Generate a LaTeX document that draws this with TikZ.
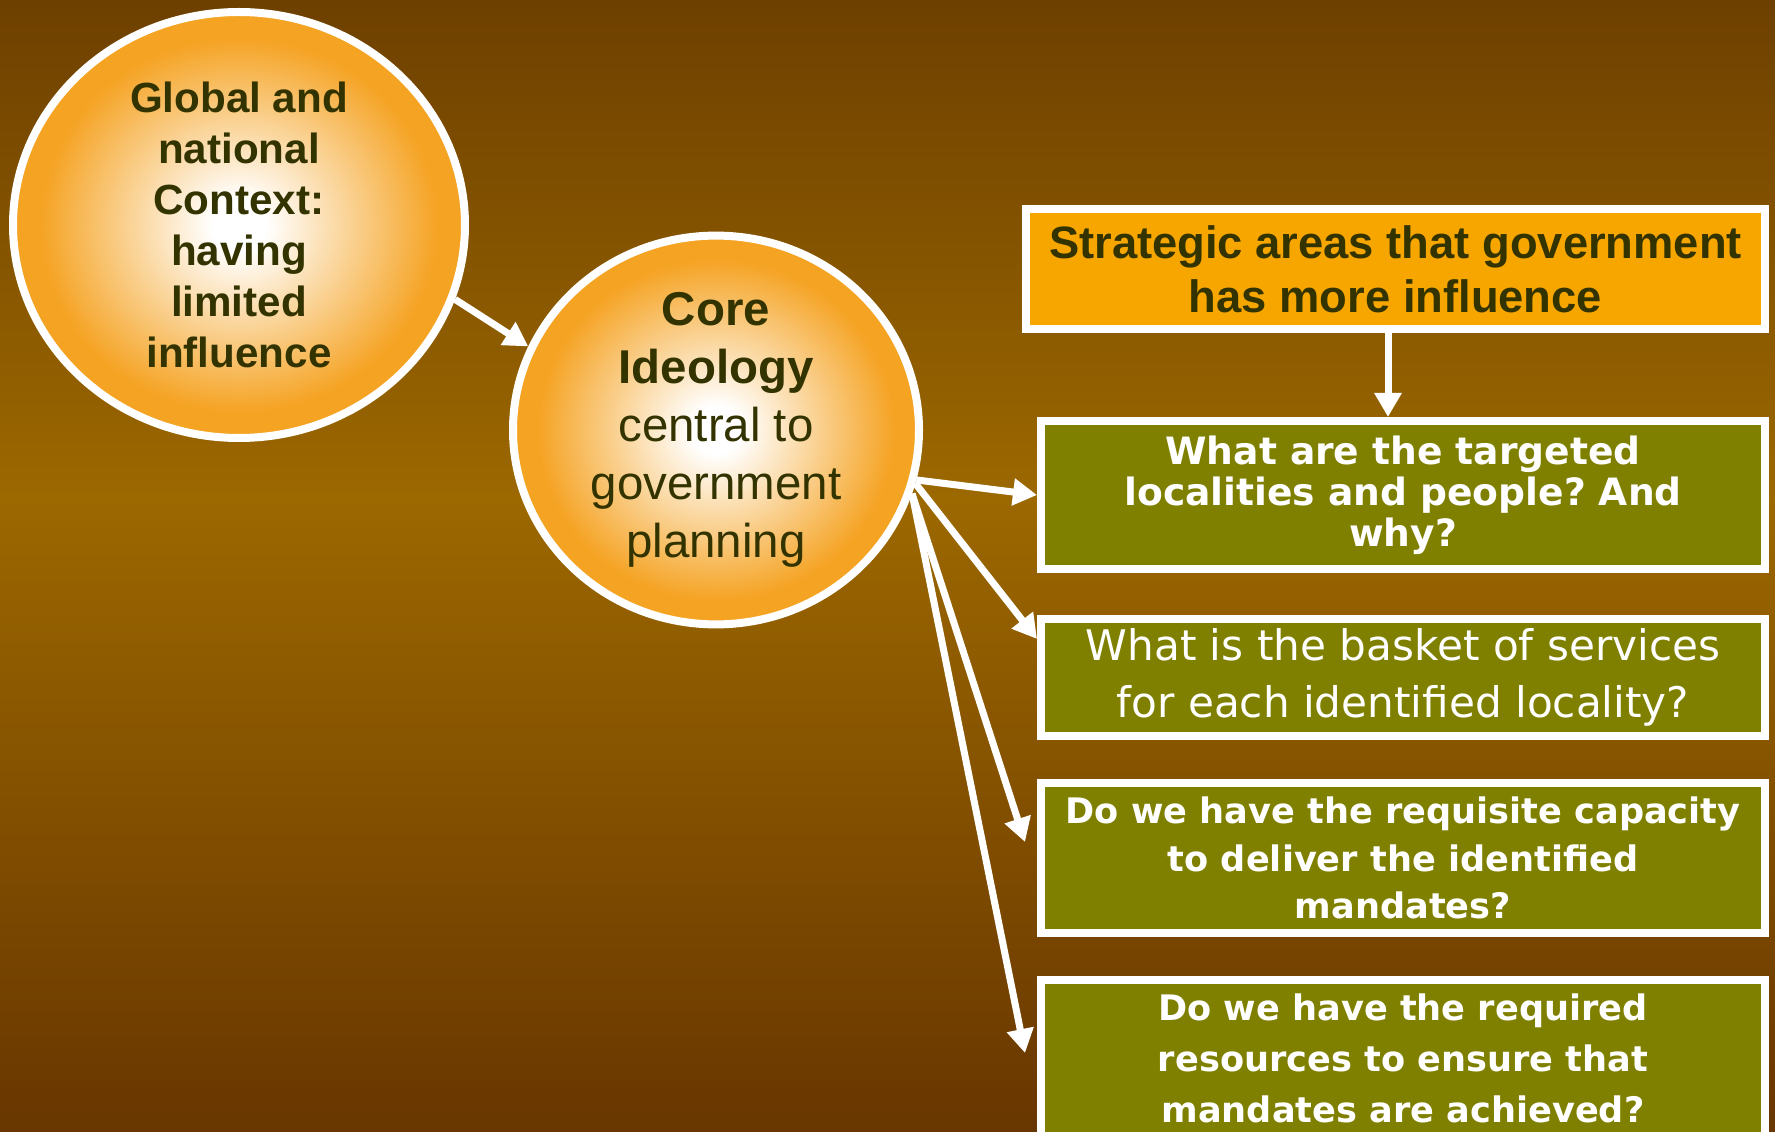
\documentclass[tikz,border=0pt]{standalone}
\usepackage{fontspec}
\setmainfont{Liberation Sans}
\newfontfamily\qfont{DejaVu Sans}
\usetikzlibrary{shapes.geometric,arrows.meta}
\frenchspacing

\definecolor{bgtop}{RGB}{110,64,0}
\definecolor{bgmid}{RGB}{156,104,0}
\definecolor{bgbot}{RGB}{104,54,0}
\definecolor{orbcol}{RGB}{245,163,35}
\definecolor{inktext}{RGB}{51,51,0}
\definecolor{stratfill}{RGB}{247,166,0}
\definecolor{qfill}{RGB}{128,128,0}

\pgfdeclareverticalshading{bgfade}{100bp}{color(0bp)=(bgbot); color(25bp)=(bgbot); color(53bp)=(bgmid); color(75bp)=(bgtop); color(100bp)=(bgtop)}
\pgfdeclareradialshading{orbglow}{\pgfpoint{0bp}{0bp}}{color(0bp)=(white); color(3bp)=(white); color(22bp)=(orbcol); color(50bp)=(orbcol)}

\begin{document}
\begin{tikzpicture}[
    orb/.style={ellipse, draw=white, line width=0.08cm, shade, shading=orbglow, text=inktext, align=center, inner sep=0pt},
    stratbox/.style={draw=white, line width=0.08cm, fill=stratfill, text=inktext, align=center, inner sep=0pt},
    qbox/.style={draw=white, line width=0.08cm, fill=qfill, text=white, align=center, inner sep=0pt, minimum width=7.24cm},
    flow/.style={draw=white, line width=0.07cm, -{Triangle[length=0.24cm,width=0.26cm]}}
  ]
  % background
  \shade[shading=bgfade] (0,0) rectangle (17.75,-11.32);
  \useasboundingbox (0,0) rectangle (17.75,-11.32);

  % circles
  \node[orb, minimum width=4.52cm, minimum height=4.26cm, font=\bfseries\fontsize{12}{14.5}\selectfont] (ctx) at (2.39,-2.25)
    {Global and\\national\\Context:\\having\\limited\\influence};
  \node[orb, minimum width=4.06cm, minimum height=3.78cm, font=\fontsize{13.5}{16.5}\selectfont] (core) at (7.16,-4.3)
    {\textbf{Core}\\\textbf{Ideology}\\central to\\government\\planning};

  % boxes
  \node[stratbox, minimum width=7.39cm, minimum height=1.20cm, font=\bfseries\fontsize{12.9}{15.4}\selectfont] (strat) at (13.955,-2.69)
    {Strategic areas that government\\has more influence};
  \node[qbox, minimum height=1.48cm, font=\qfont\bfseries\fontsize{10.7}{11.7}\selectfont] (q1) at (14.03,-4.95)
    {What are the targeted\\localities and people? And\\why?};
  \node[qbox, minimum height=1.17cm, font=\qfont\fontsize{12}{16.4}\selectfont] (q2) at (14.03,-6.775)
    {What is the basket of services\\for each identified locality?};
  \node[qbox, minimum height=1.50cm, font=\qfont\bfseries\fontsize{10}{13.5}\selectfont] (q3) at (14.03,-8.58)
    {Do we have the requisite capacity\\to deliver the identified\\mandates?};
  \node[qbox, minimum height=1.56cm, font=\qfont\bfseries\fontsize{10}{14.5}\selectfont] (q4) at (14.03,-10.58)
    {Do we have the required\\resources to ensure that\\mandates are achieved?};

  % arrows
  \draw[flow] (ctx.-19) -- (core.156);
  \draw[flow] ([xshift=-0.075cm]strat.south) -- ([xshift=-0.075cm]strat.south |- q1.north);
  \draw[flow] (core.-14) -- (q1.west);
  \draw[flow] (core.-15) -- ([yshift=-0.24cm]q2.north west);
  \draw[flow] (core.-18) -- ([xshift=-0.12cm,yshift=0.16cm]q3.west);
  \draw[flow] (core.-18) -- ([xshift=-0.12cm,yshift=0.05cm]q4.west);
\end{tikzpicture}
\end{document}
